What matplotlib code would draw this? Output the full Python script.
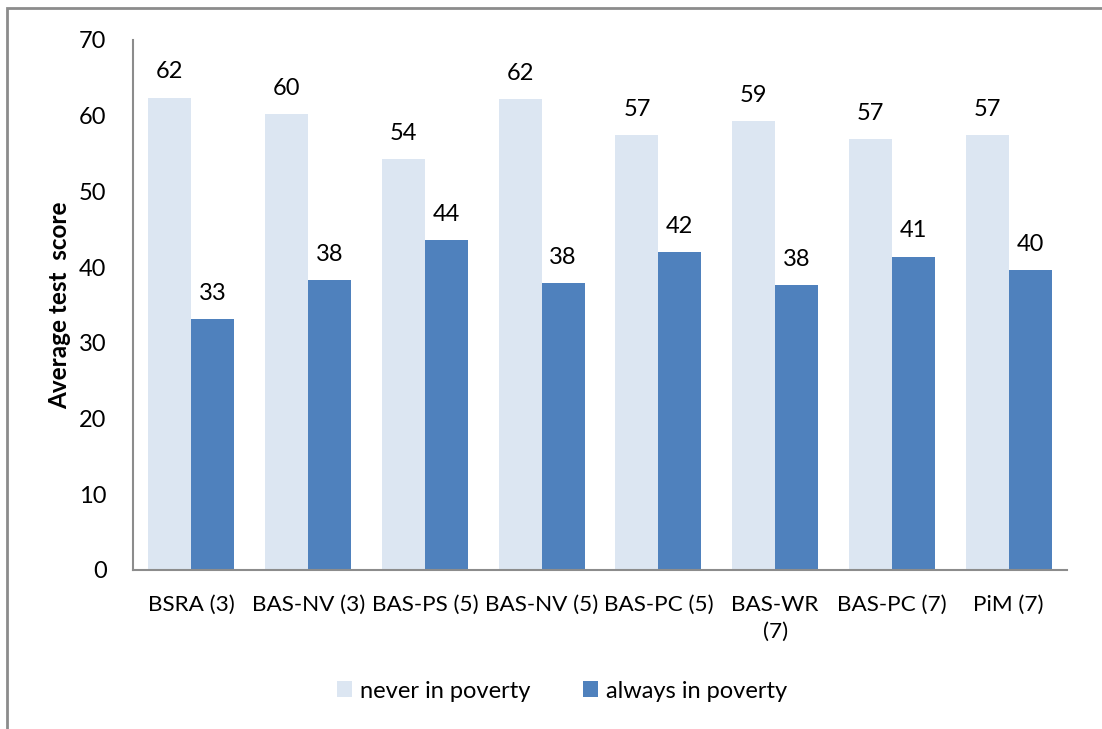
import matplotlib
matplotlib.use("Agg")
import matplotlib.pyplot as plt
import numpy as np
from matplotlib.patches import Rectangle

categories = ["BSRA (3)", "BAS-NV (3)", "BAS-PS (5)", "BAS-NV (5)", "BAS-PC (5)",
              "BAS-WR\n(7)", "BAS-PC (7)", "PiM (7)"]
never = [62.4, 60.2, 54.3, 62.2, 57.4, 59.3, 56.9, 57.4]
always = [33.1, 38.3, 43.6, 37.9, 42.0, 37.6, 41.4, 39.6]
never_labels = ["62", "60", "54", "62", "57", "59", "57", "57"]
always_labels = ["33", "38", "44", "38", "42", "38", "41", "40"]
yticks = [0, 10, 20, 30, 40, 50, 60, 70]

plt.rcParams['font.family'] = ['Lato', 'DejaVu Sans']
FS = 17

W, H = 1102, 729
fig = plt.figure(figsize=(W / 100, H / 100), dpi=100)
ax = fig.add_axes([133 / W, 1 - 570 / H, (1067 - 133) / W, (570 - 40) / H])

# outer chart border (left and top visible)
fig.patches.append(Rectangle((7 / W, -0.1), 1.2, 1 - 8 / H + 0.1, transform=fig.transFigure,
                             fill=False, edgecolor='#8c8c8c', linewidth=2, zorder=0))

x = np.arange(len(categories))
bw = 0.368
b1 = ax.bar(x - bw / 2, never, bw, color='#DCE6F2', label='never in poverty')
b2 = ax.bar(x + bw / 2, always, bw, color='#4F81BD', label='always in poverty')

for xi, v, lab in zip(x, never, never_labels):
    ax.text(xi - bw / 2, v + 2.0, lab, ha='center', va='bottom', fontsize=FS, color='black')
for xi, v, lab in zip(x, always, always_labels):
    ax.text(xi + bw / 2, v + 2.0, lab, ha='center', va='bottom', fontsize=FS, color='black')

ax.set_xlim(-0.5, len(categories) - 0.5)
ax.set_ylim(0, 70)
ax.set_yticks(yticks)
ax.set_yticklabels([str(t) for t in yticks], fontsize=FS)
ax.set_xticks(x)
ax.set_xticklabels(categories, fontsize=16.2, linespacing=1.45)
ax.tick_params(axis='both', length=0)
ax.tick_params(axis='y', pad=19)
ax.tick_params(axis='x', pad=18)
for s in ['top', 'right']:
    ax.spines[s].set_visible(False)
for s in ['left', 'bottom']:
    ax.spines[s].set_color('#8c8c8c')
    ax.spines[s].set_linewidth(1.5)

ax.set_ylabel("Average test  score", fontsize=17.5, fontweight='bold', labelpad=6)

leg = fig.legend(handles=[b1, b2], loc='center', bbox_to_anchor=(562 / W, 1 - 691 / H),
                 ncol=2, frameon=False, fontsize=FS, handlelength=0.65, handleheight=0.65,
                 columnspacing=2.2, handletextpad=0.35)

fig.savefig("out.png", dpi=100)
